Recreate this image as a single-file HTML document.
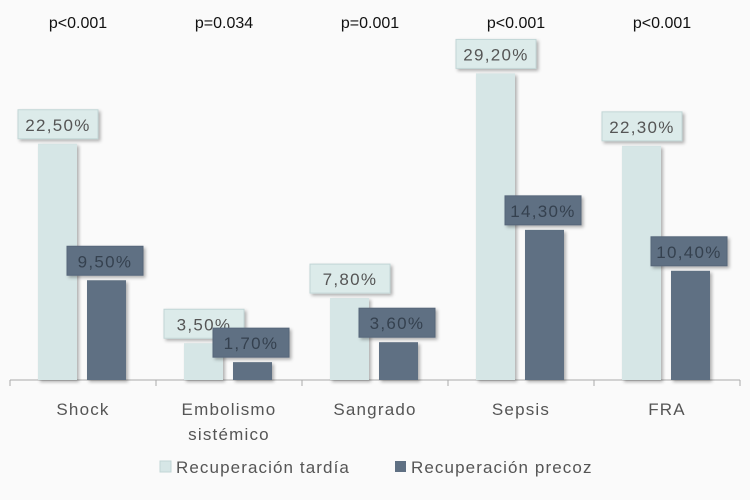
<!DOCTYPE html>
<html><head><meta charset="utf-8"><style>
body{margin:0;background:#fafafa;}
svg{display:block;font-family:"Liberation Sans",sans-serif;}
</style></head><body>
<svg id="c" width="750" height="500">
<defs><filter id="sh" x="-20%" y="-20%" width="150%" height="150%"><feDropShadow dx="2" dy="2" stdDeviation="1.5" flood-color="#000" flood-opacity="0.3"/></filter></defs>
</svg>
<script>
const categories=[["Shock"],["Embolismo","sistémico"],["Sangrado"],["Sepsis"],["FRA"]];
const tardia=[22.5,3.5,7.8,29.2,22.3];
const precoz=[9.5,1.7,3.6,14.3,10.4];
const pvalues=["p<0.001","p=0.034","p=0.001","p<0.001","p<0.001"];
const svg=document.getElementById('c');
const NS='http://www.w3.org/2000/svg';
const x0=10,cw=146,baseY=380,scale=10.5;
function y(v){return baseY-v*scale;}
function cx(i){return x0+cw*i+cw/2;}
function mk(t,a,p){const e=document.createElementNS(NS,t);for(const k in a)e.setAttribute(k,a[k]);(p||svg).appendChild(e);return e;}
function fmt(v){return v.toFixed(2).replace('.',',')+'%';}
const ax=mk('line',{x1:x0,x2:740,y1:baseY,y2:baseY,stroke:'#aaa','stroke-width':1});


for(let i=0;i<=5;i++){const t=mk('line',{x1:x0+cw*i,x2:x0+cw*i,y1:baseY,y2:baseY+6,stroke:'#aaa'});

}
function bar(i,v,isT){
  const bx=isT?cx(i)-45:cx(i)+4;
  const r=mk('rect',{x:bx,y:y(v),width:39,height:v*scale,fill:isT?'#d6e6e6':'#5f7083',filter:'url(#sh)'});
  
  
  const bw=isT?80:76;
  const g=mk('g',{});
  
  
  mk('rect',{x:bx-20,y:y(v)-34,width:bw,height:29,fill:isT?'#dcebea':'#5f7083',stroke:isT?'#c2d6d6':'#56667a',filter:'url(#sh)'},g);
  const t=mk('text',{x:bx-20+bw/2,y:y(v)-13,'text-anchor':'middle','font-size':17,'letter-spacing':1.3,fill:isT?'#555':'#35414f'},g);
  t.textContent=fmt(v);
}
categories.forEach((c,i)=>{
  bar(i,tardia[i],true);bar(i,precoz[i],false);
  c.forEach((line,j)=>{const t=mk('text',{x:cx(i),y:415+j*25,'text-anchor':'middle','font-size':17,'letter-spacing':1.2,fill:'#555'});
  
  
  t.textContent=line;});
  const p=mk('text',{x:cx(i)-5,y:28,'text-anchor':'middle','font-size':16,fill:'#111'});
  
  
  p.textContent=pvalues[i];
});
const lg=mk('g',{});


mk('rect',{x:160,y:461,width:11,height:11,fill:'#d6e6e6',stroke:'#c2d6d6'},lg);
let t1=mk('text',{x:176,y:473,'font-size':17,'letter-spacing':1.1,fill:'#555'},lg);t1.textContent='Recuperación tardía';
mk('rect',{x:395,y:461,width:11,height:11,fill:'#5f7083'},lg);
let t2=mk('text',{x:411,y:473,'font-size':17,'letter-spacing':1.1,fill:'#555'},lg);t2.textContent='Recuperación precoz';
</script>
</body></html>
